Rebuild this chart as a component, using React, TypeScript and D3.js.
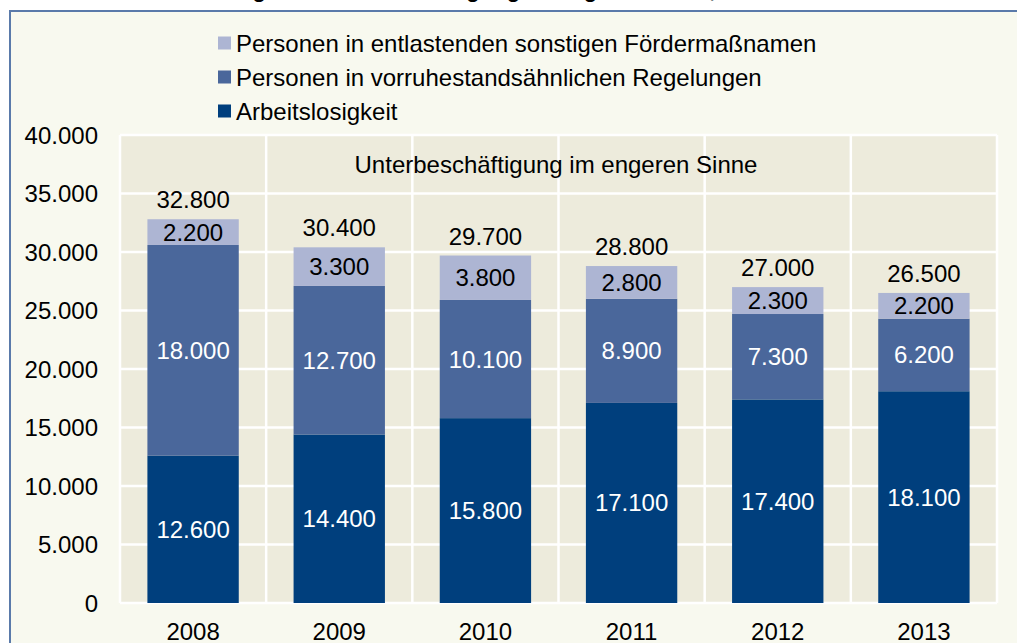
import * as d3 from "d3";

const years = ["2008", "2009", "2010", "2011", "2012", "2013"];
const arbeitslos = [12600, 14400, 15800, 17100, 17400, 18100];
const vorruhestand = [18000, 12700, 10100, 8900, 7300, 6200];
const sonstige = [2200, 3300, 3800, 2800, 2300, 2200];
const totals = [32800, 30400, 29700, 28800, 27000, 26500];
const yTicks = [0, 5000, 10000, 15000, 20000, 25000, 30000, 35000, 40000];

const seriesNames = [
  "Personen in entlastenden sonstigen Fördermaßnamen",
  "Personen in vorruhestandsähnlichen Regelungen",
  "Arbeitslosigkeit",
];
const seriesColors = ["#adb5d3", "#4a679b", "#003f7d"];
const labelColors = ["#000", "#fff", "#fff"];

const W = 1017, H = 643;
const plot = { left: 120, right: 997, top: 135, bottom: 603 };
const font = "'Liberation Sans', Arial, sans-serif";
const fs = 24;
const fmt = (v: number) => d3.format(",")(v).replace(/,/g, ".");

export default function App() {
  const x = d3.scaleBand().domain(years).range([plot.left, plot.right]).paddingInner(0.375).paddingOuter(0.1875);
  const y = d3.scaleLinear().domain([0, 40000]).range([plot.bottom, plot.top]);
  const step = x.step();
  const bounds = d3.range(years.length + 1).map((i) => plot.left + i * step);

  // stack order bottom -> top: arbeitslos, vorruhestand, sonstige
  const stacks = [arbeitslos, vorruhestand, sonstige];
  const colorIdx = [2, 1, 0];

  return (
    <svg width={W} height={H} style={{ position: "absolute", left: 0, top: 0 }} fontFamily={font}>
      <rect x={0} y={0} width={W} height={H} fill="#fff" />
      <text x={500} y={-3} textAnchor="middle" fontSize={22} fontWeight="bold" fill="#000">
        Entwicklung der Unterbeschäftigung im engeren Sinne, 2008 bis 2013
      </text>
      <rect x={10} y={11} width={W + 20} height={H + 20} fill="#f8f9ef" stroke="#5a7aaa" strokeWidth={2} />

      <rect x={plot.left} y={plot.top} width={plot.right - plot.left} height={plot.bottom - plot.top} fill="#edebdc" />
      {yTicks.map((t) => (
        <line key={t} x1={plot.left} x2={plot.right} y1={y(t)} y2={y(t)} stroke="#fff" strokeWidth={2.5} />
      ))}
      {bounds.map((b, i) => (
        <line key={i} x1={b} x2={b} y1={plot.top} y2={plot.bottom} stroke="#fff" strokeWidth={2.5} />
      ))}

      {years.map((yr, i) => {
        let base = 0;
        return (
          <g key={yr}>
            {stacks.map((s, k) => {
              const y0 = y(base), y1 = y(base + s[i]);
              base += s[i];
              const ci = colorIdx[k];
              return (
                <g key={k}>
                  <rect x={x(yr)} y={y1} width={x.bandwidth()} height={y0 - y1} fill={seriesColors[ci]} />
                  <text x={x(yr)! + x.bandwidth() / 2} y={(y0 + y1) / 2 + 8.5} textAnchor="middle" fontSize={fs} fill={labelColors[ci]}>
                    {fmt(s[i])}
                  </text>
                </g>
              );
            })}
            <text x={x(yr)! + x.bandwidth() / 2} y={y(totals[i]) - 11} textAnchor="middle" fontSize={fs} fill="#000">
              {fmt(totals[i])}
            </text>
            <text x={x(yr)! + x.bandwidth() / 2} y={640} textAnchor="middle" fontSize={fs} fill="#000">
              {yr}
            </text>
          </g>
        );
      })}

      {yTicks.map((t) => (
        <text key={t} x={98} y={y(t) + 8.5} textAnchor="end" fontSize={fs} fill="#000">
          {fmt(t)}
        </text>
      ))}

      <text x={556} y={173} textAnchor="middle" fontSize={fs} fill="#000">
        Unterbeschäftigung im engeren Sinne
      </text>

      {seriesNames.map((n, i) => (
        <g key={n} transform={`translate(218,${43 + i * 34})`}>
          <rect x={0} y={-6.5} width={13} height={13} fill={seriesColors[i]} />
          <text x={18} y={8.5} fontSize={fs} fill="#000">{n}</text>
        </g>
      ))}
    </svg>
  );
}
